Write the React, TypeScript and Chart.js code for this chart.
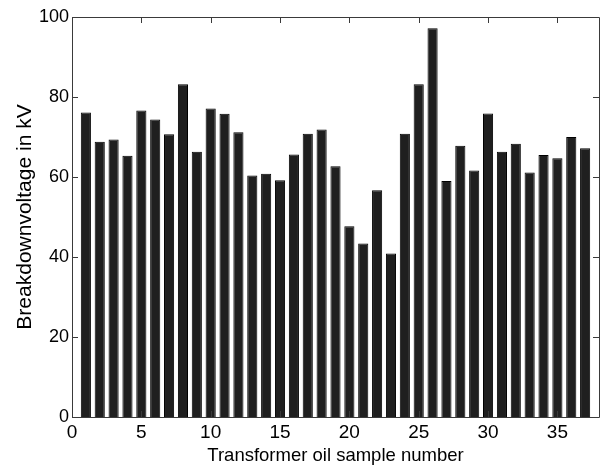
import React, { useEffect, useRef } from "react";
import { Chart, registerables } from "chart.js";

Chart.register(...registerables);

const sampleNumbers = [
  1, 2, 3, 4, 5, 6, 7, 8, 9, 10, 11, 12, 13, 14, 15, 16, 17, 18, 19, 20,
  21, 22, 23, 24, 25, 26, 27, 28, 29, 30, 31, 32, 33, 34, 35, 36, 37,
];
const breakdownVoltage = [
  76.1, 68.8, 69.4, 65.3, 76.6, 74.4, 70.7, 83.2, 66.3, 77.1, 75.8, 71.2,
  60.4, 60.8, 59.2, 65.6, 70.8, 71.9, 62.7, 47.7, 43.4, 56.7, 40.9, 70.8,
  83.2, 97.2, 59.0, 67.8, 61.6, 75.9, 66.3, 68.3, 61.1, 65.5, 64.7, 70.0,
  67.2,
];
const xTickStep = 5;
const yTickStep = 20;
const xMin = 0;
const xMax = 38;
const yMin = 0;
const yMax = 100;
const xTitle = "Transformer oil sample number";
const yTitle = "Breakdownvoltage in kV";

const FONT = "'Liberation Sans', Arial, sans-serif";

const framePlugin = {
  id: "matlabFrame",
  afterDatasetsDraw(chart: any) {
    const { ctx, chartArea } = chart;
    const { left, right, top, bottom } = chartArea;
    const xs = chart.scales.x;
    const ys = chart.scales.y;
    const tl = 6;
    ctx.save();
    ctx.strokeStyle = "#3a3a3a";
    ctx.lineWidth = 1;
    ctx.beginPath();
    ctx.rect(Math.round(left) + 0.5, Math.round(top) + 0.5, Math.round(right - left), Math.round(bottom - top));
    ctx.stroke();
    ctx.beginPath();
    xs.ticks.forEach((t: any) => {
      const px = Math.round(xs.getPixelForValue(t.value)) + 0.5;
      ctx.moveTo(px, bottom);
      ctx.lineTo(px, bottom - tl);
      ctx.moveTo(px, top);
      ctx.lineTo(px, top + tl);
    });
    ys.ticks.forEach((t: any) => {
      const py = Math.round(ys.getPixelForValue(t.value)) + 0.5;
      ctx.moveTo(left, py);
      ctx.lineTo(left + tl, py);
      ctx.moveTo(right, py);
      ctx.lineTo(right - tl, py);
    });
    ctx.stroke();
    ctx.restore();
  },
};

export default function App() {
  const canvasRef = useRef<HTMLCanvasElement | null>(null);

  useEffect(() => {
    document.body.style.margin = "0";
    const canvas = canvasRef.current;
    if (!canvas) return;
    const chart = new Chart(canvas, {
      type: "bar",
      data: {
        datasets: [
          {
            data: sampleNumbers.map((n, i) => ({ x: n, y: breakdownVoltage[i] })),
            backgroundColor: "#1f1f1f",
            borderColor: "#000000",
            borderWidth: 1,
            categoryPercentage: 1,
            barPercentage: 0.73,
          },
        ],
      },
      options: {
        animation: false,
        responsive: false,
        maintainAspectRatio: false,
        devicePixelRatio: 1,
        layout: { padding: { left: 0, right: 3, top: 17, bottom: 0 } },
        plugins: {
          legend: { display: false },
          tooltip: { enabled: false },
        },
        scales: {
          x: {
            type: "linear",
            min: xMin,
            max: xMax,
            offset: false,
            grid: { display: false, drawTicks: false },
            border: { display: false },
            ticks: {
              stepSize: xTickStep,
              includeBounds: false,
              color: "#000",
              padding: 4,
              maxRotation: 0,
              font: { family: FONT, size: 19 },
            },
            title: {
              display: true,
              text: xTitle,
              color: "#000",
              font: { family: FONT, size: 18.5 },
              padding: { top: 0, bottom: 5 },
            },
            afterFit(scale: any) {
              scale.height = 55;
            },
          },
          y: {
            type: "linear",
            min: yMin,
            max: yMax,
            grid: { display: false, drawTicks: false },
            border: { display: false },
            ticks: {
              stepSize: yTickStep,
              color: "#000",
              padding: 3,
              font: { family: FONT, size: 18 },
            },
            title: {
              display: true,
              text: yTitle,
              color: "#000",
              font: { family: FONT, size: 21 },
              padding: { top: 13, bottom: 0 },
            },
            afterFit(scale: any) {
              scale.width = 72;
            },
          },
        },
      },
      plugins: [framePlugin],
    });
    return () => chart.destroy();
  }, []);

  return (
    <div style={{ position: "absolute", left: 0, top: 0, width: 602, height: 472, background: "#fff" }}>
      <canvas ref={canvasRef} width={602} height={472} style={{ display: "block" }} />
    </div>
  );
}
